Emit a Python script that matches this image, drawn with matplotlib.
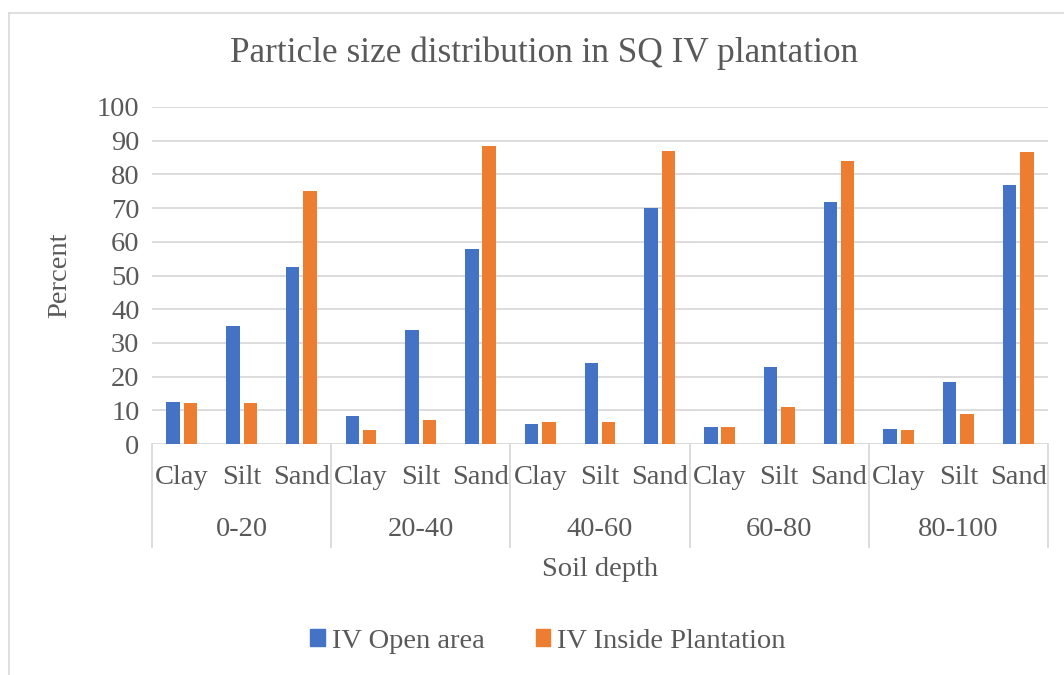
import numpy as np
import matplotlib
matplotlib.use('Agg')
import matplotlib.pyplot as plt
import matplotlib.transforms as mtransforms
from matplotlib.lines import Line2D
from matplotlib.patches import Patch

# particle size fractions per soil depth (percent)
depths = ['0-20', '20-40', '40-60', '60-80', '80-100']
fractions = ['Clay', 'Silt', 'Sand']

open_area = [12.4, 35.0, 52.4,
             8.4, 33.7, 57.8,
             6.0, 23.9, 70.0,
             5.1, 22.8, 71.9,
             4.4, 18.5, 76.9]
inside_plantation = [12.2, 12.2, 75.2,
                     4.1, 7.2, 88.5,
                     6.4, 6.4, 87.0,
                     4.9, 11.0, 84.0,
                     4.2, 8.9, 86.7]

yticks = list(range(0, 101, 10))

BLUE = '#4472C4'
ORANGE = '#ED7D31'
TXT = '#595959'
GRID = '#d9d9d9'
FS = 20.5

plt.rcParams['font.family'] = ['Liberation Serif', 'DejaVu Serif']

W, H = 1064, 675
fig = plt.figure(figsize=(W / 100, H / 100), dpi=100)
ax = fig.add_axes([152 / W, (H - 444) / H, 896 / W, (444 - 107) / H])

x = np.arange(len(open_area))
bw = 0.225
ax.bar(x - 0.145, open_area, bw, color=BLUE, zorder=3)
ax.bar(x + 0.145, inside_plantation, bw, color=ORANGE, zorder=3)

ax.set_xlim(-0.5, len(open_area) - 0.5)
ax.set_ylim(0, 100)
ax.set_yticks(yticks)
ax.tick_params(axis='y', length=0, pad=9, labelsize=FS, labelcolor=TXT)
ax.set_xticks([])
ax.yaxis.grid(True, color=GRID, lw=1.3, zorder=0)
for s in ax.spines.values():
    s.set_visible(False)

trans = mtransforms.blended_transform_factory(ax.transData, ax.transAxes)
axh = 444 - 107

# two-level category axis
for i, xi in enumerate(x):
    ax.text(xi, -(478 - 444) / axh, fractions[i % 3], transform=trans,
            ha='center', va='center', fontsize=FS, color=TXT)
for g, d in enumerate(depths):
    ax.text(g * 3 + 1, -(530 - 444) / axh, d, transform=trans,
            ha='center', va='center', fontsize=FS, color=TXT)
for b in np.arange(-0.5, len(open_area), 3):
    ax.add_line(Line2D([b, b], [0, -(547 - 444) / axh], transform=trans,
                       color=GRID, lw=1.3, clip_on=False))

fig.text(544 / W, 1 - 53 / H, 'Particle size distribution in SQ IV plantation',
         ha='center', va='center', fontsize=25.4, color=TXT)
fig.text(600 / W, 1 - 570 / H, 'Soil depth', ha='center', va='center',
         fontsize=FS, color=TXT)
fig.text(60 / W, 1 - 275 / H, 'Percent', ha='center', va='center',
         rotation=90, fontsize=FS, color=TXT)

handles = [Patch(color=BLUE, label='IV Open area'),
           Patch(color=ORANGE, label='IV Inside Plantation')]
fig.legend(handles=handles, loc='center', bbox_to_anchor=(548 / W, 1 - 641 / H),
           ncol=2, frameon=False, fontsize=FS, labelcolor=TXT,
           handlelength=0.5, handleheight=0.5, handletextpad=0.25,
           columnspacing=1.8)

# chart frame (top and left edges)
fig.add_artist(Line2D([8.5 / W, 1], [1 - 12.5 / H, 1 - 12.5 / H],
                      transform=fig.transFigure, color=GRID, lw=1.2))
fig.add_artist(Line2D([8.5 / W, 8.5 / W], [0, 1 - 12.5 / H],
                      transform=fig.transFigure, color=GRID, lw=1.2))

fig.savefig('out.png', dpi=100)
